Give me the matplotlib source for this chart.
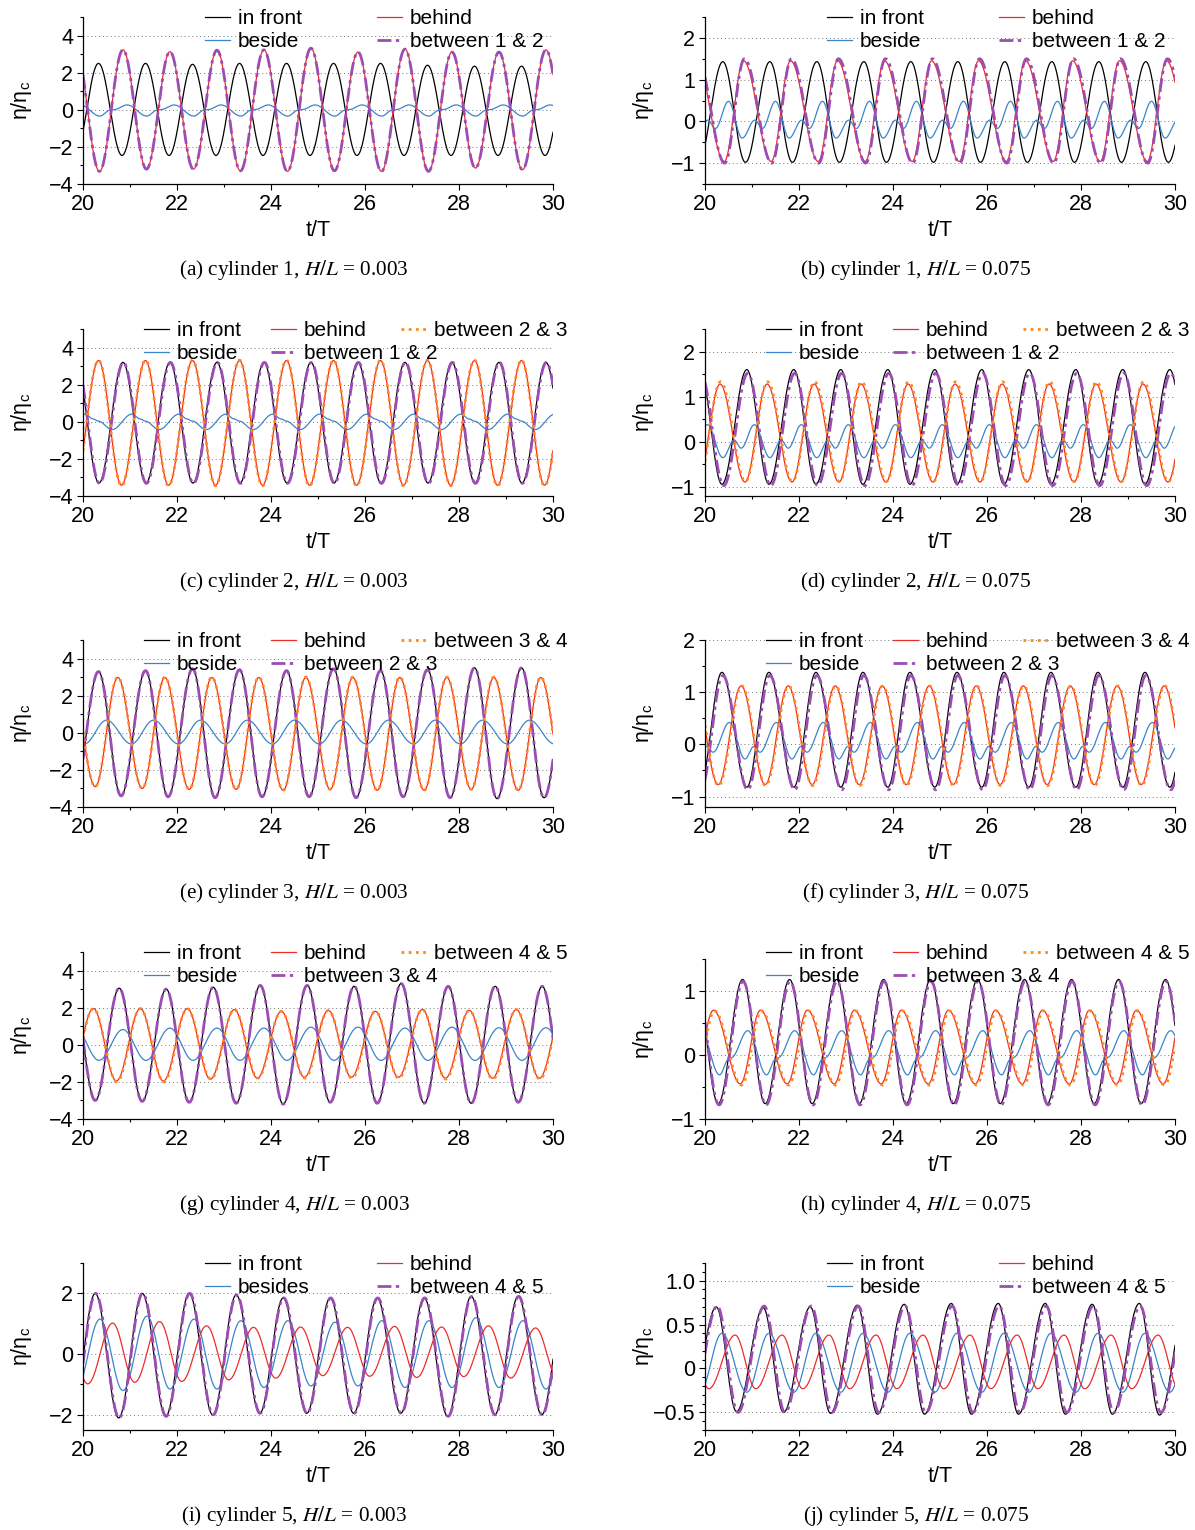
import numpy as np
import matplotlib
matplotlib.use('Agg')
import matplotlib.pyplot as plt
from matplotlib.legend import Legend
from matplotlib.ticker import MultipleLocator

plt.rcParams['font.family'] = ['Liberation Sans', 'DejaVu Sans']
plt.rcParams['font.size'] = 15
plt.rcParams['axes.unicode_minus'] = True

# Each wave is given by its extrema over one period: (phase in t/T, eta/eta_c).
# Optional *_crests / *_troughs hold the per-period peak values for t/T = 20..29.

# (a) cylinder 1, H/L = 0.003
a_front = [(0.33, 2.47), (0.83, -2.46)]
a_front_crests = [2.5, 2.5, 2.45, 2.5, 2.5, 2.5, 2.5, 2.4, 2.35, 2.35]
a_beside = [(0.36, -0.34), (0.57, -0.03), (0.66, 0.01), (0.94, 0.26)]
a_behind = [(0.35, -3.28), (0.85, 3.22)]
a_behind_crests = [3.23, 3.13, 3.21, 3.23, 3.32, 3.11, 3.27, 3.11, 3.11, 3.23]
a_behind_troughs = [-3.32, -3.2, -3.2, -3.29, -3.32, -3.29, -3.32, -3.32, -3.14, -3.23]
a_b12 = [(0.35, -3.28), (0.85, 3.22)]

# (b) cylinder 1, H/L = 0.075
b_front = [(0.38, 1.43), (0.86, -0.98)]
b_beside = [(0.06, 0.03), (0.22, -0.17), (0.50, 0.48), (0.79, -0.40)]
b_behind = [(0.41, -0.96), (0.82, 1.45)]
b_b12 = [(0.42, -1.0), (0.84, 1.5)]

# (c) cylinder 2, H/L = 0.003
c_front = [(0.34, -3.3), (0.85, 3.2)]
c_beside = [(0.04, 0.41), (0.22, 0.15), (0.32, 0.04), (0.62, -0.42)]
c_behind = [(0.33, 3.3), (0.82, -3.42)]
c_b12 = [(0.35, -3.32), (0.86, 3.2)]
c_b23 = [(0.33, 3.32), (0.82, -3.45)]

# (d) cylinder 2, H/L = 0.075
d_front = [(0.36, -0.94), (0.89, 1.6)]
d_beside = [(0.05, 0.38), (0.38, -0.35), (0.62, 0.04), (0.77, -0.14)]
d_behind = [(0.32, 1.28), (0.85, -0.89)]
d_b12 = [(0.40, -0.97), (0.91, 1.52)]
d_b23 = [(0.33, 1.33), (0.86, -0.88)]

# (e) cylinder 3, H/L = 0.003
e_front = [(0.33, 3.35), (0.81, -3.4)]
e_front_crests = [3.3, 3.35, 3.45, 3.4, 3.35, 3.45, 3.35, 3.4, 3.5, 3.5]
e_front_troughs = [-3.4, -3.45, -3.5, -3.45, -3.45, -3.5, -3.45, -3.5, -3.55, -3.5]
e_beside = [(0.03, -0.6), (0.50, 0.68)]
e_behind = [(0.26, -2.95), (0.74, 2.98)]
e_behind_troughs = [-2.9, -3.0, -3.05, -3.05, -3.1, -3.05, -3.1, -3.1, -3.05, -3.1]
e_b23 = [(0.33, 3.33), (0.81, -3.42)]
e_b34 = [(0.26, -2.95), (0.74, 3.0)]

# (f) cylinder 3, H/L = 0.075
f_front = [(0.36, 1.38), (0.89, -0.82)]
f_beside = [(0.04, -0.04), (0.17, -0.15), (0.52, 0.42), (0.85, -0.28)]
f_behind = [(0.28, -0.77), (0.77, 1.12)]
f_b23 = [(0.38, 1.32), (0.91, -0.87)]
f_b34 = [(0.29, -0.79), (0.78, 1.12)]

# (g) cylinder 4, H/L = 0.003
g_front = [(0.26, -3.05), (0.77, 3.05)]
g_front_crests = [3.05, 3.0, 3.1, 3.2, 3.2, 3.15, 3.3, 3.15, 3.15, 3.15]
g_front_troughs = [-3.0, -3.05, -3.1, -3.15, -3.2, -3.1, -3.15, -3.15, -3.15, -3.1]
g_beside = [(0.34, -0.84), (0.85, 0.85)]
g_beside_crests = [0.82, 0.9, 0.9, 0.9, 0.95, 0.95, 0.9, 0.95, 0.92, 0.92]
g_behind = [(0.22, 1.95), (0.71, -1.85)]
g_behind_crests = [1.95, 1.95, 1.95, 1.9, 1.8, 1.85, 1.8, 1.9, 1.85, 1.9]
g_behind_troughs = [-1.95, -1.95, -1.85, -1.8, -1.75, -1.75, -1.75, -1.8, -1.8, -1.8]
g_b34 = [(0.26, -3.05), (0.77, 3.05)]
g_b45 = [(0.22, 1.95), (0.72, -1.9)]
g_b45_troughs = [-2.0, -2.0, -1.85, -1.8, -1.8, -1.8, -1.8, -1.85, -1.85, -1.85]

# (h) cylinder 4, H/L = 0.075
h_front = [(0.28, -0.76), (0.80, 1.18)]
h_beside = [(0.31, -0.31), (0.50, -0.07), (0.56, -0.04), (0.91, 0.38)]
h_behind = [(0.18, 0.70), (0.75, -0.45)]
h_b34 = [(0.30, -0.78), (0.81, 1.15)]
h_b45 = [(0.20, 0.69), (0.78, -0.47)]

# (i) cylinder 5, H/L = 0.003
i_front = [(0.26, 2.0), (0.76, -2.05)]
i_front_crests = [2.0, 2.0, 2.0, 1.95, 1.85, 1.85, 1.85, 1.85, 1.9, 1.9]
i_front_troughs = [-2.1, -2.05, -2.0, -1.95, -1.95, -1.95, -1.95, -2.05, -2.0, -2.0]
i_beside = [(0.36, 1.15), (0.85, -1.15)]
i_beside_crests = [1.15, 1.25, 1.15, 1.1, 1.1, 1.05, 1.1, 1.1, 1.2, 1.1]
i_beside_troughs = [-1.2, -1.15, -1.15, -1.1, -1.05, -1.05, -1.1, -1.1, -1.1, -1.15]
i_behind = [(0.10, -0.98), (0.63, 1.02)]
i_behind_crests = [1.02, 1.07, 0.93, 0.88, 0.89, 0.88, 0.91, 0.89, 0.93, 0.86]
i_behind_troughs = [-0.98, -0.93, -0.9, -0.85, -0.79, -0.71, -0.73, -0.77, -0.74, -0.79]
i_b45 = [(0.27, 1.98), (0.77, -2.03)]

# (j) cylinder 5, H/L = 0.075
j_front = [(0.24, 0.70), (0.67, -0.50)]
j_front_crests = [0.7, 0.69, 0.7, 0.72, 0.73, 0.74, 0.74, 0.74, 0.73, 0.74]
j_front_troughs = [-0.49, -0.5, -0.51, -0.52, -0.52, -0.52, -0.52, -0.52, -0.52, -0.53]
j_beside = [(0.36, 0.40), (0.89, -0.27)]
j_behind = [(0.08, -0.23), (0.64, 0.38)]
j_b45 = [(0.26, 0.71), (0.70, -0.50)]

STYLE = {
    'front': dict(color='black', lw=0.9, ls='-'),
    'beside': dict(color='#3a85c8', lw=0.9, ls='-'),
    'behind': dict(color='#ee2b2b', lw=0.9, ls='-'),
    'prev': dict(color='#9b4db3', lw=2.0, ls=(0, (5, 1.6, 1.2, 1.6))),
    'next': dict(color='#ff8a1c', lw=2.0, ls=(0, (1, 1.6))),
}

T0, T1 = 20, 30
t = np.linspace(T0, T1, 5001)


def wave(pattern, crests=None, troughs=None):
    vals = [v for _, v in pattern]
    i_hi, i_lo = int(np.argmax(vals)), int(np.argmin(vals))
    ts, vs = [], []
    for k, start in enumerate(range(T0 - 1, T1 + 1)):
        j = min(max(k - 1, 0), 9)
        for i, (ph, v) in enumerate(pattern):
            if crests is not None and i == i_hi:
                v = crests[j]
            if troughs is not None and i == i_lo:
                v = troughs[j]
            ts.append(start + ph)
            vs.append(v)
    ts, vs = np.array(ts), np.array(vs)
    idx = np.clip(np.searchsorted(ts, t, side='right') - 1, 0, len(ts) - 2)
    u = (t - ts[idx]) / (ts[idx + 1] - ts[idx])
    return vs[idx] + (vs[idx + 1] - vs[idx]) * (1 - np.cos(np.pi * u)) / 2


panels = [
    dict(tag='a', cyl=1, hl='0.003', col=0, row=0, box=(17, 184), ylim=(-4, 5),
         yticks=[-4, -2, 0, 2, 4], ylabels=None, minor=1,
         series=[('front', 'in front', wave(a_front, a_front_crests)),
                 ('beside', 'beside', wave(a_beside)),
                 ('behind', 'behind', wave(a_behind, a_behind_crests, a_behind_troughs)),
                 ('prev', 'between 1 & 2', wave(a_b12, a_behind_crests, a_behind_troughs))]),
    dict(tag='b', cyl=1, hl='0.075', col=1, row=0, box=(17, 184), ylim=(-1.5, 2.5),
         yticks=[-1, 0, 1, 2], ylabels=None, minor=0.5,
         series=[('front', 'in front', wave(b_front)),
                 ('beside', 'beside', wave(b_beside)),
                 ('behind', 'behind', wave(b_behind)),
                 ('prev', 'between 1 & 2', wave(b_b12))]),
    dict(tag='c', cyl=2, hl='0.003', col=0, row=1, box=(329, 496), ylim=(-4, 5),
         yticks=[-4, -2, 0, 2, 4], ylabels=None, minor=1,
         series=[('front', 'in front', wave(c_front)),
                 ('beside', 'beside', wave(c_beside)),
                 ('behind', 'behind', wave(c_behind)),
                 ('prev', 'between 1 & 2', wave(c_b12)),
                 ('next', 'between 2 & 3', wave(c_b23))]),
    dict(tag='d', cyl=2, hl='0.075', col=1, row=1, box=(329, 496), ylim=(-1.2, 2.5),
         yticks=[-1, 0, 1, 2], ylabels=None, minor=0.5,
         series=[('front', 'in front', wave(d_front)),
                 ('beside', 'beside', wave(d_beside)),
                 ('behind', 'behind', wave(d_behind)),
                 ('prev', 'between 1 & 2', wave(d_b12)),
                 ('next', 'between 2 & 3', wave(d_b23))]),
    dict(tag='e', cyl=3, hl='0.003', col=0, row=2, box=(640, 807), ylim=(-4, 5),
         yticks=[-4, -2, 0, 2, 4], ylabels=None, minor=1,
         series=[('front', 'in front', wave(e_front, e_front_crests, e_front_troughs)),
                 ('beside', 'beside', wave(e_beside)),
                 ('behind', 'behind', wave(e_behind, None, e_behind_troughs)),
                 ('prev', 'between 2 & 3', wave(e_b23, e_front_crests, e_front_troughs)),
                 ('next', 'between 3 & 4', wave(e_b34, None, e_behind_troughs))]),
    dict(tag='f', cyl=3, hl='0.075', col=1, row=2, box=(640, 807), ylim=(-1.2, 2.0),
         yticks=[-1, 0, 1, 2], ylabels=None, minor=0.5,
         series=[('front', 'in front', wave(f_front)),
                 ('beside', 'beside', wave(f_beside)),
                 ('behind', 'behind', wave(f_behind)),
                 ('prev', 'between 2 & 3', wave(f_b23)),
                 ('next', 'between 3 & 4', wave(f_b34))]),
    dict(tag='g', cyl=4, hl='0.003', col=0, row=3, box=(952, 1119), ylim=(-4, 5),
         yticks=[-4, -2, 0, 2, 4], ylabels=None, minor=1,
         series=[('front', 'in front', wave(g_front, g_front_crests, g_front_troughs)),
                 ('beside', 'beside', wave(g_beside, g_beside_crests)),
                 ('behind', 'behind', wave(g_behind, g_behind_crests, g_behind_troughs)),
                 ('prev', 'between 3 & 4', wave(g_b34, g_front_crests, g_front_troughs)),
                 ('next', 'between 4 & 5', wave(g_b45, g_behind_crests, g_b45_troughs))]),
    dict(tag='h', cyl=4, hl='0.075', col=1, row=3, box=(959, 1119), ylim=(-1.0, 1.5),
         yticks=[-1, 0, 1], ylabels=None, minor=0.5,
         series=[('front', 'in front', wave(h_front)),
                 ('beside', 'beside', wave(h_beside)),
                 ('behind', 'behind', wave(h_behind)),
                 ('prev', 'between 3 & 4', wave(h_b34)),
                 ('next', 'between 4 & 5', wave(h_b45))]),
    dict(tag='i', cyl=5, hl='0.003', col=0, row=4, box=(1263, 1430), ylim=(-2.5, 3),
         yticks=[-2, 0, 2], ylabels=None, minor=1,
         series=[('front', 'in front', wave(i_front, i_front_crests, i_front_troughs)),
                 ('beside', 'besides', wave(i_beside, i_beside_crests, i_beside_troughs)),
                 ('behind', 'behind', wave(i_behind, i_behind_crests, i_behind_troughs)),
                 ('prev', 'between 4 & 5', wave(i_b45, i_front_crests, i_front_troughs))]),
    dict(tag='j', cyl=5, hl='0.075', col=1, row=4, box=(1263, 1430), ylim=(-0.7, 1.2),
         yticks=[-0.5, 0, 0.5, 1.0], ylabels=['\u22120.5', '0', '0.5', '1.0'], minor=0.1,
         series=[('front', 'in front', wave(j_front, j_front_crests, j_front_troughs)),
                 ('beside', 'beside', wave(j_beside)),
                 ('behind', 'behind', wave(j_behind)),
                 ('prev', 'between 4 & 5', wave(j_b45))]),
]

W, H = 1195, 1530
fig = plt.figure(figsize=(W / 100, H / 100), dpi=100)
col_left = [83, 705]
ax_w = 470
row_top = [17, 329, 640, 952, 1263]
row_bottom = [184, 496, 807, 1119, 1430]
FS = 15.5
LFS = 15

for p in panels:
    top, bottom = p['box']
    x0 = col_left[p['col']]
    ax = fig.add_axes([x0 / W, 1 - bottom / H, ax_w / W, (bottom - top) / H])
    for key, label, y in p['series']:
        st = STYLE[key]
        ax.plot(t, y, color=st['color'], lw=st['lw'], ls=st['ls'], label=label)

    ax.set_xlim(T0, T1)
    ax.set_ylim(*p['ylim'])
    ax.set_xticks(range(20, 31, 2))
    ax.xaxis.set_minor_locator(MultipleLocator(1))
    if p['ylabels']:
        ax.set_yticks(p['yticks'], p['ylabels'])
    else:
        ax.set_yticks(p['yticks'])
    ax.yaxis.set_minor_locator(MultipleLocator(p['minor']))
    ax.tick_params(which='major', direction='out', length=4, width=0.8, labelsize=FS, pad=3)
    ax.tick_params(which='minor', direction='out', length=2.5, width=0.8)
    for s in ['top', 'right']:
        ax.spines[s].set_visible(False)
    for s in ['left', 'bottom']:
        ax.spines[s].set_linewidth(0.9)
    ax.grid(axis='y', which='major', color='#777777', lw=0.7, ls=(0, (1, 3)))
    ax.set_axisbelow(True)
    ax.set_xlabel('t/T', fontsize=FS, labelpad=4)
    ax.set_ylabel('\u03b7/\u03b7$_\\mathregular{c}$', fontsize=FS)
    ax.yaxis.set_label_coords(-0.105, 0.5)

    # legend laid out column by column, as in the original figure
    lines = ax.get_lines()
    labels = [s[1] for s in p['series']]
    if len(lines) == 4:
        xs = [0.26, 0.625]
    else:
        xs = [0.13, 0.40, 0.677]
    leg_top = row_top[p['row']] - 8
    for c, xf in enumerate(xs):
        hs = lines[2 * c:2 * c + 2]
        ls_ = labels[2 * c:2 * c + 2]
        leg = Legend(ax, hs, ls_, loc='upper left',
                     bbox_to_anchor=((x0 + xf * ax_w) / W, 1 - leg_top / H),
                     bbox_transform=fig.transFigure, frameon=False, borderpad=0,
                     borderaxespad=0, handlelength=1.2, handletextpad=0.38,
                     labelspacing=0.2, fontsize=LFS)
        ax.add_artist(leg)

    fig.text((x0 + ax_w / 2 - 24) / W, 1 - (row_bottom[p['row']] + 86) / H,
             '(%s) cylinder %d, $H/L$ = %s' % (p['tag'], p['cyl'], p['hl']),
             ha='center', va='center', fontsize=15.3, family='Liberation Serif',
             math_fontfamily='stix')

fig.savefig('out.png', dpi=100)
